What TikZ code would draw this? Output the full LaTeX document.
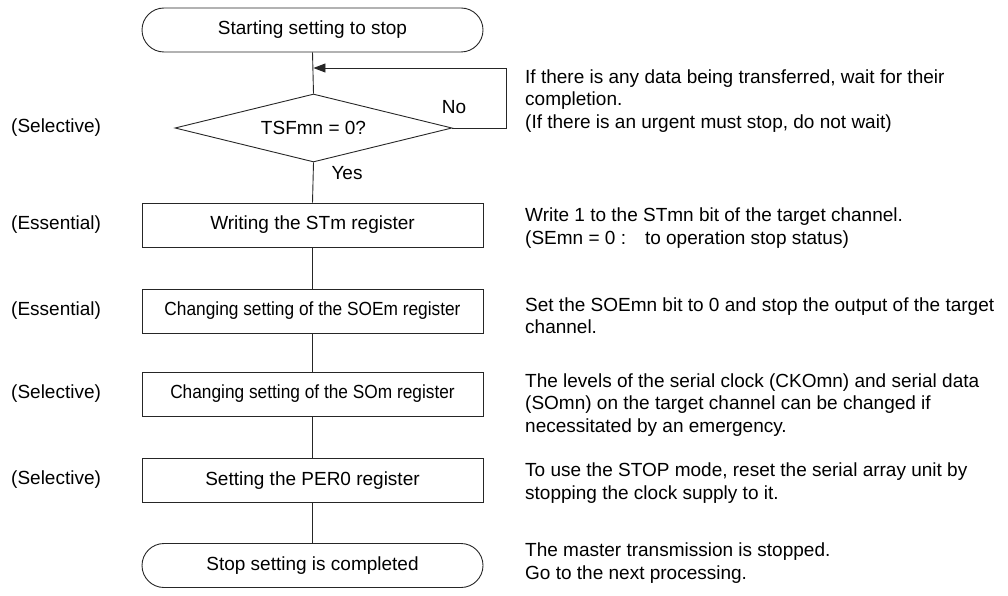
\documentclass[tikz,border=0pt]{standalone}
\usepackage{fontspec}
\setmainfont{Liberation Sans}
\usetikzlibrary{shapes.geometric,arrows.meta}
\begin{document}
\begin{tikzpicture}[x=1pt,y=-1pt,
  every node/.style={font=\fontsize{19}{22.4}\selectfont, text=black},
  line/.style={draw=black!85, line width=0.9pt},
  term/.style={line, rectangle, rounded corners=22pt, minimum width=341pt, minimum height=44pt, inner sep=0pt},
  proc/.style={line, rectangle, minimum width=341pt, minimum height=44pt, inner sep=0pt},
  decide/.style={line, diamond, aspect=4.07, minimum width=277pt, minimum height=68pt, inner sep=0pt},
  side/.style={anchor=west, align=left, inner sep=0pt},
  note/.style={anchor=west, align=left, inner sep=0pt}]
\useasboundingbox (0,0) rectangle (1008,596);
\node[term] (start) at (312.5,30) {Starting setting to stop};
\node[decide] (dec) at (313.5,128) {TSFmn = 0?};
\node[proc] (b1) at (312.5,225) {Writing the STm register};
\node[proc] (b2) at (312.5,311) {\scalebox{0.91}[1]{Changing setting of the SOEm register}};
\node[proc] (b3) at (312.5,394) {\scalebox{0.91}[1]{Changing setting of the SOm register}};
\node[proc] (b4) at (312.5,480.5) {Setting the PER0 register};
\node[term] (stop) at (312.5,565.5) {Stop setting is completed};
\coordinate (merge) at (313,68);
\coordinate (fbr) at (506,68);
\draw[line] (start.south) -- (dec.north);
\draw[line] (dec.south) -- (b1.north);
\draw[line] (b1.south) -- (b2.north);
\draw[line] (b2.south) -- (b3.north);
\draw[line] (b3.south) -- (b4.north);
\draw[line] (b4.south) -- (stop.north);
\draw[line, -{Triangle[length=12pt,width=9pt]}] (dec.east) -| (fbr) -- ([xshift=0.45pt]merge);
\node (no) at (454,107) {No};
\node (yes) at (347,173) {Yes};
\node[side] (l0) at (11,128) {(Selective)};
\node[side] (l1) at (11,225) {(Essential)};
\node[side] (l2) at (11,311) {(Essential)};
\node[side] (l3) at (11,394) {(Selective)};
\node[side] (l4) at (11,480) {(Selective)};
\node[note] (n0) at (525,101) {If there is any data being transferred, wait for their\\completion.\\(If there is an urgent must stop, do not wait)};
\node[note] (n1) at (525,228) {Write 1 to the STmn bit of the target channel.\\(SEmn = 0 :\quad to operation stop status)};
\node[note] (n2) at (525,316) {Set the SOEmn bit to 0 and stop the output of the target\\channel.};
\node[note] (n3) at (525,405) {The levels of the serial clock (CKOmn) and serial data\\(SOmn) on the target channel can be changed if\\necessitated by an emergency.};
\node[note] (n4) at (525,483) {To use the STOP mode, reset the serial array unit by\\stopping the clock supply to it.};
\node[note] (n5) at (525,563) {The master transmission is stopped.\\Go to the next processing.};
\end{tikzpicture}
\end{document}
